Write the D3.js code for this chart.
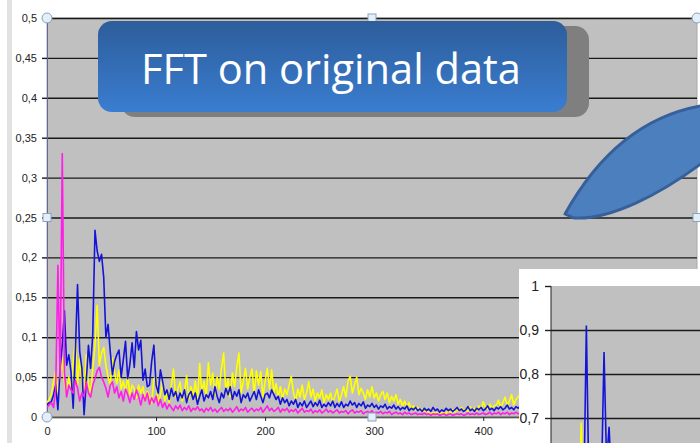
<!DOCTYPE html>
<html>
<head>
<meta charset="utf-8">
<style>
    body { margin: 0; background: #fff; }
    svg { display: block; font-family: "Liberation Sans", Arial, sans-serif; }
</style>
</head>
<body>
<svg id="chart" width="700" height="443"></svg>
<script src="https://d3js.org/d3.v7.min.js"></script>
<script>
// FFT amplitudes, one value every 2 bins
var magenta = [
    .012,.015,.018,.012,.035,.190,.048,.330,.055,.025,
    .040,.034,.030,.046,.036,.020,.030,.026,.044,.030,
    .025,.040,.048,.058,.062,.050,.044,.036,.025,.040,
    .044,.030,.038,.024,.032,.020,.035,.028,.018,.030,
    .022,.034,.026,.015,.028,.020,.030,.016,.024,.018,
    .026,.014,.022,.012,.018,.010,.016,.012,.008,.014,
    .010,.015,.008,.012,.009,.014,.007,.011,.009,.013,
    .008,.010,.006,.011,.008,.012,.007,.010,.006,.009,
    .012,.007,.010,.008,.011,.006,.009,.013,.007,.010,
    .008,.012,.006,.009,.011,.007,.010,.008,.012,.006,
    .010,.014,.008,.011,.007,.009,.012,.006,.010,.008,
    .011,.006,.009,.007,.010,.005,.008,.011,.006,.008,
    .007,.010,.005,.008,.006,.009,.005,.007,.010,.006,
    .008,.005,.007,.009,.005,.007,.006,.008,.004,.007,
    .009,.005,.007,.006,.008,.004,.006,.007,.005,.008,
    .004,.006,.005,.007,.004,.006,.005,.007,.003,.005,
    .006,.004,.005,.003,.006,.004,.005,.003,.004,.005,
    .003,.004,.003,.005,.003,.004,.002,.004,.003,.004,
    .002,.003,.004,.002,.003,.004,.002,.003,.004,.003,
    .004,.002,.003,.005,.003,.004,.003,.005,.003,.004,
    .005,.003,.004,.006,.003,.005,.004,.006,.003,.005,
    .004,.006,.003,.005,.004,.006,.004,.005
]
var blue = [
    .015,.018,.019,.028,.040,.009,.060,.090,.133,.065,
    .078,.057,.011,.082,.166,.082,.061,.003,.044,.090,
    .061,.105,.234,.208,.195,.204,.175,.100,.116,.082,
    .053,.070,.078,.084,.050,.072,.095,.048,.066,.093,
    .062,.107,.084,.096,.046,.060,.038,.040,.070,.090,
    .040,.030,.059,.045,.028,.034,.022,.036,.026,.032,
    .020,.030,.024,.034,.018,.028,.032,.022,.030,.016,
    .026,.034,.020,.028,.024,.032,.022,.038,.026,.018,
    .030,.024,.036,.028,.038,.022,.032,.026,.034,.018,
    .028,.024,.030,.020,.026,.032,.022,.034,.026,.018,
    .028,.030,.024,.034,.028,.022,.026,.016,.024,.018,
    .022,.014,.020,.016,.022,.012,.018,.014,.020,.012,
    .016,.020,.013,.018,.014,.021,.012,.016,.013,.018,
    .014,.020,.012,.017,.013,.019,.012,.016,.014,.020,
    .015,.018,.012,.017,.014,.019,.011,.015,.013,.017,
    .012,.015,.010,.014,.012,.016,.010,.013,.011,.015,
    .010,.013,.009,.012,.010,.014,.008,.011,.009,.012,
    .008,.010,.007,.011,.008,.010,.007,.012,.008,.010,
    .006,.009,.007,.011,.008,.010,.007,.009,.012,.008,
    .010,.007,.009,.013,.008,.010,.007,.011,.009,.012,
    .008,.010,.014,.009,.011,.008,.012,.010,.013,.009,
    .011,.015,.010,.012,.009,.013,.011,.014
]
var yellow = [
    .018,.022,.028,.045,.057,.030,.055,.074,.044,.030,
    .050,.035,.070,.095,.040,.074,.045,.030,.078,.040,
    .030,.061,.090,.140,.065,.080,.087,.065,.050,.040,
    .074,.055,.042,.059,.035,.045,.030,.052,.028,.040,
    .035,.024,.040,.030,.038,.020,.032,.025,.018,.048,
    .050,.015,.028,.045,.020,.030,.018,.040,.060,.025,
    .035,.044,.020,.030,.052,.022,.038,.026,.045,.020,
    .067,.030,.045,.025,.068,.040,.055,.028,.050,.035,
    .062,.080,.030,.048,.025,.055,.038,.062,.080,.030,
    .045,.061,.035,.050,.060,.028,.058,.040,.057,.025,
    .045,.061,.035,.059,.030,.042,.025,.038,.022,.035,
    .028,.040,.051,.030,.020,.035,.025,.040,.022,.030,
    .044,.025,.035,.020,.030,.024,.034,.018,.028,.022,
    .030,.018,.026,.035,.020,.028,.038,.025,.045,.051,
    .030,.040,.050,.028,.036,.030,.022,.034,.025,.038,
    .024,.030,.020,.028,.032,.022,.030,.018,.026,.020,
    .028,.016,.022,.014,.020,.012,.018,.010,.014,.009,
    .012,.008,.010,.006,.008,.005,.007,.004,.006,.005,
    .007,.004,.006,.005,.008,.005,.009,.006,.010,.007,
    .012,.008,.010,.007,.013,.009,.011,.008,.014,.010,
    .019,.012,.010,.016,.011,.014,.015,.021,.012,.018,
    .025,.014,.020,.028,.015,.022,.025,.030
]
var bins = d3.range(0, 2 * blue.length, 2)
var yTicks = [0, .05, .1, .15, .2, .25, .3, .35, .4, .45, .5]
var xTicks = [0, 100, 200, 300, 400]

// second (zoomed) chart peeking in at the bottom right
var insetBlue = [.45,.52,.48,.55,.50,.47,.53,.49,.56,.51,.48,.54,.58,.52,.91,.55,.50,.57,.53,.49,.56,.85,.60,.68,.55]
var insetYellow = [.40,.45,.42,.48,.44,.41,.46,.43,.50,.47,.44,.49,.69,.46,.42,.48,.45,.43,.47,.44,.49,.46,.43,.48,.45]
var insetBins = d3.range(0, insetBlue.length)
var insetTicks = [.7, .8, .9, 1]

var titleText = "FFT on original data"

var comma = d3.formatLocale({decimal: ",", thousands: ".", grouping: [3], currency: ["", ""]}).format("")

var svg = d3.select("#chart")
var plot = {left: 47, right: 697, top: 18, bottom: 417}

var xScale = d3.scaleLinear().domain([0, 596]).range([plot.left, plot.right])
var yScale = d3.scaleLinear().domain([0, .5]).range([plot.bottom, plot.top])

// slide edge strip
svg.append("rect").attr("x", 7).attr("y", 0).attr("width", 5).attr("height", 443).attr("fill", "#e2e2e2")

svg.append("rect")
    .attr("x", plot.left).attr("y", plot.top)
    .attr("width", plot.right - plot.left).attr("height", plot.bottom - plot.top)
    .attr("fill", "#c0c0c0").attr("stroke", "#a8a8a8")

// gridlines
var grid = svg.append("g")
    .attr("transform", "translate(" + plot.left + ",0)")
    .call(d3.axisLeft(yScale).tickValues(yTicks).tickSize(-(plot.right - plot.left)).tickFormat(""))
grid.select(".domain").remove()
grid.selectAll("line").attr("stroke", "#1a1a1a").attr("stroke-width", 1.4)

var yAxis = svg.append("g")
    .attr("transform", "translate(" + plot.left + ",0)")
    .call(d3.axisLeft(yScale).tickValues(yTicks).tickSize(5).tickPadding(5).tickFormat(comma))
yAxis.select(".domain").attr("stroke", "#6464a8")
yAxis.selectAll("line").attr("stroke", "#1a1a1a").attr("stroke-width", 1.4)
yAxis.selectAll("text").attr("font-size", 11).attr("fill", "#222").attr("font-family", "Liberation Sans, Arial")

var xAxis = svg.append("g")
    .attr("transform", "translate(0," + plot.bottom + ")")
    .call(d3.axisBottom(xScale).tickValues(xTicks).tickSize(4).tickPadding(6))
xAxis.select(".domain").attr("stroke", "#555")
xAxis.selectAll("line").attr("stroke", "#222")
xAxis.selectAll("text").attr("font-size", 11).attr("fill", "#222").attr("font-family", "Liberation Sans, Arial")

svg.append("clipPath").attr("id", "plotclip")
    .append("rect")
    .attr("x", plot.left).attr("y", plot.top)
    .attr("width", plot.right - plot.left).attr("height", plot.bottom - plot.top)

var line = d3.line()
    .x(function(d, i) { return xScale(bins[i]) })
    .y(function(d) { return yScale(d) })

var series = [
    {values: yellow, color: "#ffff00"},
    {values: blue, color: "#1414d8"},
    {values: magenta, color: "#ff1ee6"}
]
svg.append("g").attr("clip-path", "url(#plotclip)")
    .selectAll("path")
    .data(series)
    .enter()
    .append("path")
    .attr("d", function(s) { return line(s.values) })
    .attr("fill", "none")
    .attr("stroke", function(s) { return s.color })
    .attr("stroke-width", 1.6)
    .attr("stroke-linejoin", "round")

// selection handles of the chart object
var midX = (plot.left + plot.right) / 2, midY = (plot.top + plot.bottom) / 2
var circles = [[plot.left, plot.top], [plot.right, plot.top], [plot.left, plot.bottom], [plot.right, plot.bottom]]
var squares = [[midX, plot.top], [plot.left, midY], [plot.right, midY], [midX, plot.bottom]]
svg.append("g").selectAll("circle").data(circles).enter().append("circle")
    .attr("cx", function(d) { return d[0] }).attr("cy", function(d) { return d[1] })
    .attr("r", 5).attr("fill", "#e4eef8").attr("stroke", "#8aa2bc")
svg.append("g").selectAll("rect").data(squares).enter().append("rect")
    .attr("x", function(d) { return d[0] - 4 }).attr("y", function(d) { return d[1] - 4 })
    .attr("width", 8).attr("height", 8).attr("fill", "#e4eef8").attr("stroke", "#8aa2bc")

// title callout
var defs = svg.append("defs")
var grad = defs.append("linearGradient").attr("id", "titlegrad").attr("x1", 0).attr("y1", 0).attr("x2", 0).attr("y2", 1)
grad.append("stop").attr("offset", 0).attr("stop-color", "#2d5d9b")
grad.append("stop").attr("offset", 1).attr("stop-color", "#3a7dd0")

svg.append("rect").attr("x", 121).attr("y", 26).attr("width", 468).attr("height", 91).attr("rx", 14)
    .attr("fill", "#7f7f7f")
svg.append("rect").attr("x", 98).attr("y", 21).attr("width", 469).attr("height", 91).attr("rx", 14)
    .attr("fill", "url(#titlegrad)")
var title = svg.append("text")
    .attr("x", 331).attr("y", 84)
    .attr("text-anchor", "middle")
    .attr("fill", "#fff")
    .attr("font-family", "Open Sans, sans-serif")
    .attr("font-size", 40)
    .text(titleText)
var tw = title.node().getComputedTextLength()
title.attr("font-size", 40 * 380 / tw)

// leaf shape
svg.append("path")
    .attr("d", "M565,214 C595,160 640,115 706,105 L706,160 C660,195 610,220 574,218 Z")
    .attr("fill", "#4c7fbe").attr("stroke", "#37609a").attr("stroke-width", 3).attr("stroke-linejoin", "round")

// inset chart
var inset = {left: 551, right: 700, top: 286, bottom: 443}
svg.append("rect").attr("x", 519).attr("y", 269).attr("width", 181).attr("height", 174).attr("fill", "#fff")
svg.append("rect").attr("x", inset.left).attr("y", inset.top)
    .attr("width", inset.right - inset.left).attr("height", inset.bottom - inset.top).attr("fill", "#c0c0c0")

var ixScale = d3.scaleLinear().domain([0, 59]).range([inset.left, inset.right])
var iyScale = d3.scaleLinear().domain([.7, 1]).range([418, inset.top])

var igrid = svg.append("g").attr("transform", "translate(" + inset.left + ",0)")
    .call(d3.axisLeft(iyScale).tickValues(insetTicks.slice(0, 3)).tickSize(-(inset.right - inset.left)).tickFormat(""))
igrid.select(".domain").remove()
igrid.selectAll("line").attr("stroke", "#1a1a1a").attr("stroke-width", 1.4)

svg.append("clipPath").attr("id", "insetclip")
    .append("rect")
    .attr("x", inset.left).attr("y", inset.top)
    .attr("width", inset.right - inset.left).attr("height", inset.bottom - inset.top)

var iline = d3.line()
    .x(function(d, i) { return ixScale(insetBins[i]) })
    .y(function(d) { return iyScale(d) })
svg.append("g").attr("clip-path", "url(#insetclip)")
    .selectAll("path")
    .data([{values: insetYellow, color: "#ffff00"}, {values: insetBlue, color: "#1414d8"}])
    .enter()
    .append("path")
    .attr("d", function(s) { return iline(s.values) })
    .attr("fill", "none")
    .attr("stroke", function(s) { return s.color })
    .attr("stroke-width", 1.6)

var iAxis = svg.append("g").attr("transform", "translate(" + inset.left + ",0)")
    .call(d3.axisLeft(iyScale).tickValues(insetTicks).tickSize(6).tickPadding(6).tickFormat(comma))
iAxis.select(".domain").attr("d", "M0," + inset.top + "V" + inset.bottom).attr("stroke", "#222")
iAxis.selectAll("line").attr("stroke", "#222").attr("stroke-width", 1.4)
iAxis.selectAll("text").attr("font-size", 14).attr("fill", "#222").attr("font-family", "Liberation Sans, Arial")
</script>
</body>
</html>
